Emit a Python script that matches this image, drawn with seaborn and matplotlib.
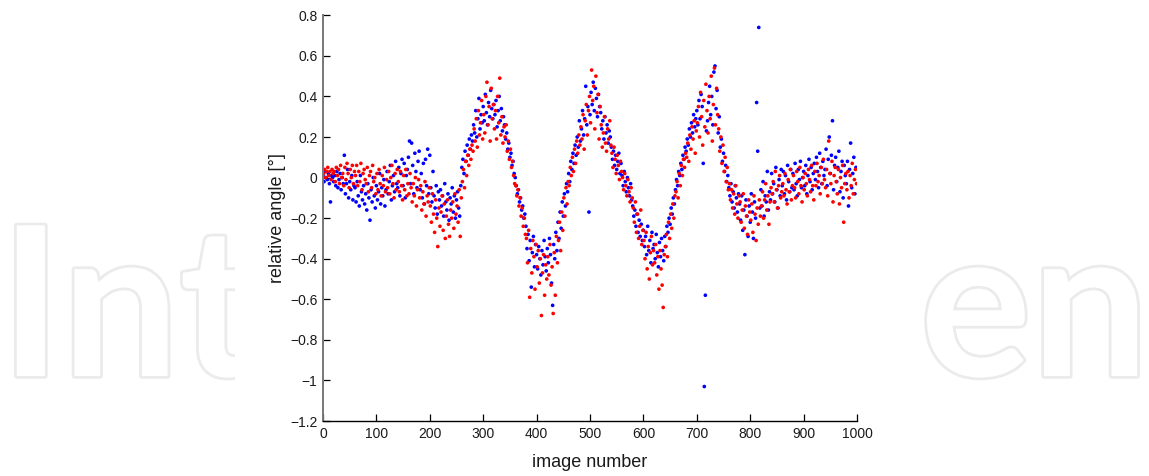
import numpy as np
import pandas as pd
import matplotlib
matplotlib.use("Agg")
import matplotlib.pyplot as plt
import matplotlib.patheffects as pe
from matplotlib.patches import Rectangle
from matplotlib.ticker import FuncFormatter
import seaborn as sns

# relative angle per image (blue: even images, red: odd images)
blue_angle = [
    0.01, -0.02, 0.03, 0.00, -0.01, 0.02, -0.03, -0.12, 0.01, 0.00,
    -0.02, 0.01, -0.04, 0.03, -0.05, -0.01, 0.02, -0.06, 0.00, -0.03,
    0.11, -0.08, -0.03, 0.04, -0.10, -0.02, -0.06, 0.01, -0.11, -0.04,
    -0.05, -0.12, -0.02, -0.09, -0.14, 0.01, -0.07, -0.11, -0.04, -0.13,
    -0.08, -0.16, -0.03, -0.10, -0.21, -0.06, -0.12, 0.00, -0.09, -0.15,
    -0.04, -0.11, -0.07, 0.02, -0.13, -0.05, -0.09, -0.01, -0.14, -0.06,
    0.03, -0.08, -0.02, 0.06, -0.11, -0.04, 0.01, -0.07, 0.08, -0.03,
    -0.05, 0.05, -0.09, 0.02, 0.09, -0.04, 0.07, -0.10, 0.01, 0.04,
    0.10, 0.18, -0.03, 0.17, 0.06, -0.08, 0.12, 0.03, -0.05, 0.08,
    0.13, -0.06, 0.02, -0.10, 0.07, -0.13, 0.09, -0.04, 0.14, -0.08,
    0.11, -0.05, -0.12, 0.03, -0.09, -0.15, -0.04, -0.18, -0.07, -0.11,
    -0.06, -0.14, -0.09, -0.19, -0.03, -0.12, -0.16, -0.08, -0.21, -0.10,
    -0.13, -0.05, -0.17, -0.09, -0.20, -0.11, -0.07, -0.15, -0.19, -0.04,
    0.05, 0.09, 0.02, 0.13, 0.08, 0.16, 0.11, 0.19, 0.14, 0.21,
    0.18, 0.26, 0.22, 0.33, 0.20, 0.29, 0.39, 0.24, 0.31, 0.27,
    0.35, 0.28, 0.41, 0.32, 0.26, 0.37, 0.30, 0.43, 0.34, 0.29,
    0.36, 0.31, 0.38, 0.25, 0.33, 0.40, 0.28, 0.34, 0.23, 0.30,
    0.26, 0.19, 0.22, 0.14, 0.17, 0.10, 0.12, 0.06, 0.08, 0.02,
    0.00, -0.04, -0.08, -0.06, -0.12, -0.10, -0.16, -0.14, -0.20, -0.18,
    -0.24, -0.35, -0.28, -0.41, -0.31, -0.54, -0.37, -0.29, -0.44, -0.33,
    -0.38, -0.45, -0.34, -0.40, -0.48, -0.36, -0.43, -0.31, -0.39, -0.46,
    -0.35, -0.42, -0.30, -0.38, -0.52, -0.63, -0.33, -0.40, -0.27, -0.36,
    -0.22, -0.30, -0.17, -0.25, -0.12, -0.19, -0.08, -0.14, -0.03, -0.07,
    0.02, -0.02, 0.08, 0.04, 0.12, 0.07, 0.16, 0.11, 0.20, 0.15,
    0.28, 0.18, 0.24, 0.33, 0.21, 0.29, 0.45, 0.26, 0.35, -0.17,
    0.31, 0.42, 0.36, 0.47, 0.33, 0.44, 0.39, 0.30, 0.41, 0.35,
    0.32, 0.24, 0.28, 0.19, 0.30, 0.22, 0.26, 0.17, 0.23, 0.20,
    0.15, 0.09, 0.13, 0.06, 0.11, 0.04, 0.08, 0.12, 0.02, 0.07,
    0.01, -0.04, 0.03, -0.02, -0.07, 0.00, -0.05, -0.09, -0.03, -0.11,
    -0.14, -0.19, -0.16, -0.24, -0.18, -0.27, -0.21, -0.29, -0.23, -0.31,
    -0.26, -0.34, -0.29, -0.38, -0.24, -0.36, -0.31, -0.42, -0.27, -0.35,
    -0.33, -0.40, -0.28, -0.37, -0.44, -0.32, -0.39, -0.30, -0.36, -0.41,
    -0.29, -0.34, -0.24, -0.27, -0.20, -0.23, -0.15, -0.18, -0.10, -0.13,
    -0.06, -0.01, -0.04, 0.03, 0.01, 0.07, 0.04, 0.11, 0.09, 0.15,
    0.13, 0.19, 0.16, 0.24, 0.20, 0.27, 0.22, 0.31, 0.25, 0.29,
    0.33, 0.26, 0.38, 0.29, 0.41, 0.35, 0.07, -1.03, -0.58, 0.23,
    0.28, 0.37, 0.45, 0.31, 0.40, 0.26, 0.52, 0.55, 0.34, 0.43,
    0.22, 0.30, 0.15, 0.19, 0.08, 0.12, 0.03, 0.06, -0.02, 0.01,
    -0.05, -0.09, -0.03, -0.12, -0.07, -0.15, -0.04, -0.10, -0.17, -0.08,
    -0.13, -0.21, -0.09, -0.26, -0.16, -0.38, -0.11, -0.19, -0.29, -0.14,
    -0.22, -0.08, -0.17, -0.30, -0.12, -0.20, 0.37, 0.13, 0.74, -0.15,
    -0.06, -0.14, -0.02, -0.19, -0.09, -0.12, 0.03, -0.16, -0.07, -0.11,
    0.02, -0.08, -0.03, -0.12, 0.05, -0.06, -0.15, -0.01, -0.09, 0.04,
    -0.04, 0.03, -0.08, 0.01, -0.11, 0.06, -0.02, -0.07, 0.04, -0.05,
    0.02, -0.06, 0.07, -0.03, -0.09, 0.04, -0.01, 0.08, -0.05, 0.00,
    0.03, -0.04, 0.06, -0.08, 0.01, 0.09, -0.02, 0.05, -0.06, 0.02,
    0.07, -0.01, 0.10, 0.03, -0.05, 0.12, 0.05, -0.03, 0.08, 0.01,
    0.04, 0.14, -0.04, 0.09, 0.20, 0.02, 0.11, 0.28, -0.06, 0.06,
    0.10, -0.02, 0.05, 0.13, -0.07, 0.03, 0.08, -0.10, 0.06, 0.01,
    -0.03, 0.08, -0.14, 0.04, 0.17, -0.05, 0.02, 0.10, -0.08, 0.05,
]

red_angle = [
    0.02, 0.04, 0.00, 0.03, 0.05, 0.01, 0.03, -0.01, 0.04, 0.02,
    0.03, -0.02, 0.05, 0.01, 0.04, -0.03, 0.06, 0.00, 0.02, -0.04,
    0.05, -0.01, 0.07, 0.02, -0.05, 0.04, 0.00, 0.06, -0.03, 0.03,
    0.01, 0.06, -0.04, 0.03, -0.02, 0.07, -0.06, 0.02, 0.04, -0.01,
    -0.03, 0.05, -0.07, 0.01, 0.03, -0.05, 0.06, -0.02, 0.00, -0.08,
    0.02, -0.06, 0.04, -0.03, -0.09, 0.01, -0.04, 0.05, -0.07, -0.01,
    -0.05, 0.03, -0.08, 0.00, 0.06, -0.03, -0.10, 0.02, -0.06, 0.04,
    -0.02, -0.07, 0.03, -0.04, -0.11, 0.01, -0.06, 0.04, -0.09, -0.03,
    -0.08, 0.02, -0.05, -0.12, -0.03, -0.09, 0.00, -0.14, -0.06, -0.01,
    -0.10, -0.04, -0.16, -0.07, -0.13, -0.02, -0.19, -0.09, -0.12, -0.05,
    -0.14, -0.22, -0.08, -0.18, -0.27, -0.11, -0.20, -0.34, -0.15, -0.24,
    -0.17, -0.09, -0.26, -0.13, -0.30, -0.19, -0.11, -0.23, -0.29, -0.16,
    -0.20, -0.12, -0.25, -0.08, -0.18, -0.14, -0.22, -0.06, -0.29, -0.10,
    -0.02, 0.04, -0.05, 0.08, 0.01, 0.11, 0.06, 0.14, 0.09, 0.16,
    0.13, 0.24, 0.18, 0.29, 0.15, 0.33, 0.21, 0.27, 0.38, 0.19,
    0.31, 0.22, 0.40, 0.47, 0.26, 0.35, 0.18, 0.44, 0.29, 0.36,
    0.24, 0.33, 0.19, 0.40, 0.27, 0.49, 0.21, 0.30, 0.17, 0.25,
    0.20, 0.26, 0.13, 0.18, 0.09, 0.14, 0.05, 0.08, 0.01, -0.03,
    -0.04, -0.09, -0.06, -0.14, -0.10, -0.19, -0.15, -0.24, -0.20, -0.28,
    -0.30, -0.42, -0.26, -0.59, -0.35, -0.47, -0.31, -0.39, -0.55, -0.33,
    -0.44, -0.36, -0.52, -0.40, -0.68, -0.47, -0.38, -0.58, -0.43, -0.50,
    -0.39, -0.48, -0.33, -0.53, -0.44, -0.67, -0.37, -0.58, -0.29, -0.42,
    -0.31, -0.22, -0.36, -0.17, -0.26, -0.10, -0.19, -0.05, -0.13, -0.02,
    -0.04, 0.05, 0.01, 0.10, 0.03, 0.14, 0.07, 0.18, 0.12, 0.21,
    0.16, 0.25, 0.19, 0.31, 0.14, 0.28, 0.36, 0.21, 0.33, 0.40,
    0.27, 0.53, 0.38, 0.45, 0.24, 0.50, 0.32, 0.41, 0.19, 0.35,
    0.26, 0.15, 0.22, 0.30, 0.17, 0.13, 0.24, 0.19, 0.28, 0.16,
    0.12, 0.05, 0.15, 0.09, 0.02, 0.11, 0.06, -0.01, 0.08, 0.03,
    0.00, -0.06, 0.02, -0.04, -0.09, -0.01, -0.07, -0.12, -0.05, -0.10,
    -0.15, -0.22, -0.12, -0.27, -0.18, -0.30, -0.24, -0.16, -0.33, -0.26,
    -0.31, -0.40, -0.27, -0.45, -0.34, -0.50, -0.37, -0.29, -0.43, -0.36,
    -0.42, -0.33, -0.48, -0.39, -0.55, -0.36, -0.45, -0.53, -0.64, -0.38,
    -0.34, -0.28, -0.39, -0.22, -0.30, -0.18, -0.25, -0.13, -0.20, -0.09,
    -0.07, -0.02, -0.10, 0.02, -0.04, 0.06, 0.01, 0.09, 0.05, 0.12,
    0.10, 0.17, 0.08, 0.21, 0.14, 0.25, 0.19, 0.28, 0.12, 0.23,
    0.27, 0.35, 0.20, 0.42, 0.30, 0.16, 0.38, 0.25, 0.46, 0.33,
    0.22, 0.40, 0.29, 0.50, 0.18, 0.36, 0.54, 0.26, 0.44, 0.31,
    0.24, 0.13, 0.20, 0.07, 0.16, 0.03, 0.10, -0.02, 0.05, -0.06,
    -0.03, -0.11, -0.06, -0.15, -0.08, -0.18, -0.04, -0.13, -0.20, -0.09,
    -0.12, -0.22, -0.16, -0.08, -0.25, -0.14, -0.19, -0.28, -0.11, -0.17,
    -0.21, -0.13, -0.27, -0.09, -0.18, -0.31, -0.15, -0.23, -0.11, -0.19,
    -0.14, -0.07, -0.20, -0.11, -0.03, -0.16, -0.09, -0.23, -0.12, -0.05,
    -0.08, -0.02, -0.12, 0.03, -0.06, -0.15, -0.04, 0.01, -0.10, -0.07,
    -0.03, -0.09, 0.02, -0.06, -0.13, -0.01, -0.07, 0.04, -0.11, -0.04,
    0.01, -0.05, -0.10, 0.03, -0.02, -0.08, 0.05, -0.04, -0.12, 0.00,
    -0.06, 0.02, -0.03, -0.09, 0.04, -0.01, -0.07, 0.06, -0.04, -0.11,
    0.03, -0.04, 0.07, -0.02, 0.01, -0.08, 0.05, -0.03, 0.09, -0.01,
    -0.05, 0.04, -0.09, 0.18, 0.02, -0.03, 0.08, -0.12, 0.01, 0.05,
    -0.02, -0.08, 0.04, -0.13, 0.00, -0.05, 0.06, -0.22, -0.03, 0.02,
    -0.06, 0.03, -0.10, 0.01, -0.04, 0.07, -0.08, -0.01, 0.04, -0.03,
]

blue_image = list(range(0, 2 * len(blue_angle), 2))
red_image = list(range(1, 2 * len(red_angle), 2))

x_ticks = [0, 100, 200, 300, 400, 500, 600, 700, 800, 900, 1000]
y_ticks = [-1.2, -1.0, -0.8, -0.6, -0.4, -0.2, 0.0, 0.2, 0.4, 0.6, 0.8]

df = pd.concat([
    pd.DataFrame({"image": blue_image, "angle": blue_angle, "series": "blue"}),
    pd.DataFrame({"image": red_image, "angle": red_angle, "series": "red"}),
], ignore_index=True)

sns.set_theme(style="white")
plt.rcParams["font.family"] = ["Liberation Sans", "DejaVu Sans"]

fig = plt.figure(figsize=(11.49, 4.76), dpi=100)
ax = fig.add_axes([0.2811, 0.1155, 0.4648, 0.8524])

sns.scatterplot(data=df, x="image", y="angle", hue="series",
                palette={"blue": "#0000ff", "red": "#ff0000"},
                s=7, linewidth=0, legend=False, ax=ax)

ax.set_xlim(0, 1000)
ax.set_ylim(-1.2, 0.8)
ax.set_xticks(x_ticks)
ax.set_yticks(y_ticks)
ax.yaxis.set_major_formatter(FuncFormatter(lambda v, _: f"{round(v, 1):g}".replace("-", "\u2212")))
ax.tick_params(bottom=True, left=True, direction="in", length=5, width=0.9,
               color="black", labelsize=10, labelcolor="#1a1a1a", pad=4)
for side in ["top", "right"]:
    ax.spines[side].set_visible(False)
ax.spines["bottom"].set_color("black")
ax.spines["bottom"].set_linewidth(1.0)
ax.spines["left"].set_color("#777777")
ax.spines["left"].set_linewidth(1.4)

ax.set_xlabel("image number", fontsize=13, color="#1a1a1a")
ax.set_ylabel("relative angle [°]", fontsize=13, color="#1a1a1a")
ax.xaxis.label.set_va("center")
ax.yaxis.label.set_va("center")
ax.xaxis.set_label_coords(0.5, -0.103)
ax.yaxis.set_label_coords(-0.086, 0.5)

# faint outlined watermark, middle part hidden behind a white band
stroke = [pe.withStroke(linewidth=4, foreground="#ebebeb")]
baseline = 1 - 376 / 476
fig.text(0.0, baseline, "Int", fontsize=150, family="Lato", weight="bold",
         color="white", ha="left", va="baseline", path_effects=stroke, zorder=-3)
fig.text(1.0, baseline, "en", fontsize=150, family="Lato", weight="bold",
         color="white", ha="right", va="baseline", path_effects=stroke, zorder=-3)
fig.patches.append(Rectangle((235 / 1149, 0), (922 - 235) / 1149, 1,
                             transform=fig.transFigure, facecolor="white",
                             edgecolor="none", zorder=-2))

fig.savefig("out.png", dpi=100)
